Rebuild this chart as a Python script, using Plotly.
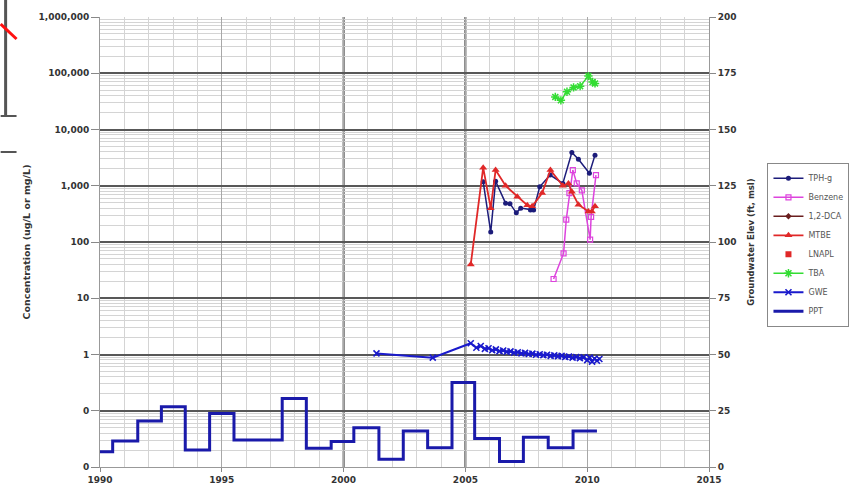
import plotly.graph_objects as go

# ---------------- data (decimal years) ----------------
tph_dates = [2005.73, 2006.04, 2006.24, 2006.65, 2006.83, 2007.09, 2007.27, 2007.67, 2007.80,
             2008.05, 2008.48, 2009.00, 2009.37, 2009.64, 2010.09, 2010.32]
tph_vals = [1180, 150, 1200, 490, 480, 330, 400, 370, 370, 960, 1550, 1100, 3900, 2950, 1670, 3500]

benz_dates = [2008.62, 2009.03, 2009.14, 2009.27, 2009.41, 2009.57, 2009.78, 2010.12, 2010.16, 2010.36]
benz_vals = [22, 63, 250, 740, 1900, 1100, 830, 110, 280, 1550]

dca_dates = [None]
dca_vals = [None]

mtbe_dates = [2005.22, 2005.73, 2006.04, 2006.24, 2006.65, 2007.13, 2007.54, 2007.74, 2008.15,
              2008.49, 2009.00, 2009.23, 2009.37, 2009.64, 2010.05, 2010.19, 2010.32]
mtbe_vals = [40, 2100, 400, 1900, 1000, 640, 450, 430, 740, 1900, 1000, 1100, 780, 460, 350, 350, 430]

lnapl_dates = [None]
lnapl_vals = [None]

tba_dates = [2008.69, 2008.92, 2009.17, 2009.44, 2009.71, 2010.05, 2010.22, 2010.32]
tba_vals = [38000, 33000, 47000, 56000, 59000, 89000, 70000, 66000]

gwe_dates = [2001.35, 2003.66, 2005.22, 2005.45, 2005.63, 2005.80, 2005.95, 2006.10, 2006.25, 2006.40,
             2006.55, 2006.70, 2006.85, 2007.00, 2007.15, 2007.30, 2007.45, 2007.60, 2007.75, 2007.90,
             2008.05, 2008.20, 2008.35, 2008.50, 2008.65, 2008.80, 2008.95, 2009.10, 2009.25, 2009.40,
             2009.55, 2009.70, 2009.85, 2010.00, 2010.10, 2010.20, 2010.30, 2010.40, 2010.50]
gwe_vals = [50.5, 48.6, 55.0, 53.0, 53.8, 52.5, 52.8, 51.9, 52.3, 51.5,
            51.8, 51.2, 51.4, 50.8, 51.0, 50.5, 50.7, 50.2, 50.4, 49.9,
            50.1, 49.7, 49.9, 49.4, 49.6, 49.2, 49.4, 48.9, 49.1, 48.6,
            48.9, 48.4, 48.7, 47.5, 48.6, 46.8, 48.2, 47.2, 48.0]

ppt_dates = [1990.0, 1990.52, 1991.55, 1992.52, 1993.5, 1994.5, 1995.5, 1996.5, 1997.48, 1998.47,
             1999.49, 2000.42, 2001.45, 2002.45, 2003.45, 2004.45, 2005.38, 2006.4, 2007.38, 2008.4,
             2009.42, 2010.4]
ppt_vals = [6.8, 11.6, 20.4, 26.8, 7.6, 23.8, 12.0, 12.0, 30.5, 8.3,
            11.3, 17.5, 3.4, 16.0, 8.6, 37.6, 12.7, 2.4, 13.2, 8.6,
            16.0, 16.0]

x_ticks = [1990, 1995, 2000, 2005, 2010, 2015]
x_labels = ["1990", "1995", "2000", "2005", "2010", "2015"]
conc_ticks = [0.01, 0.1, 1, 10, 100, 1000, 10000, 100000, 1000000]
conc_labels = ["0", "0", "1", "10", "100", "1,000", "10,000", "100,000", "1,000,000"]
elev_ticks = [0, 25, 50, 75, 100, 125, 150, 175, 200]

conc_minor = [k * 10.0 ** d for d in range(-2, 6) for k in range(2, 10)]

FONT = "DejaVu Sans, Liberation Sans, Arial"
TICKFONT = dict(family=FONT, size=9, color="#333333", weight="bold")

fig = go.Figure()

fig.add_trace(go.Scatter(x=tph_dates, y=tph_vals, name="TPH-g", mode="lines+markers",
                         line=dict(color="#1c1c7a", width=1.5),
                         marker=dict(symbol="circle", size=5, color="#1c1c7a")))
fig.add_trace(go.Scatter(x=benz_dates, y=benz_vals, name="Benzene", mode="lines+markers",
                         line=dict(color="#dd44dd", width=1.5),
                         marker=dict(symbol="square-open", size=5, color="#dd44dd", line=dict(width=1.2))))
fig.add_trace(go.Scatter(x=dca_dates, y=dca_vals, name="1,2-DCA", mode="lines+markers",
                         line=dict(color="#6a1e1e", width=1.5),
                         marker=dict(symbol="diamond", size=5, color="#6a1e1e")))
fig.add_trace(go.Scatter(x=mtbe_dates, y=mtbe_vals, name="MTBE", mode="lines+markers",
                         line=dict(color="#e02828", width=1.8),
                         marker=dict(symbol="triangle-up", size=7, color="#e02828")))
fig.add_trace(go.Scatter(x=lnapl_dates, y=lnapl_vals, name="LNAPL", mode="markers",
                         marker=dict(symbol="square", size=6, color="#e02828")))
fig.add_trace(go.Scatter(x=tba_dates, y=tba_vals, name="TBA", mode="lines+markers",
                         line=dict(color="#33dd33", width=1.5),
                         marker=dict(symbol="asterisk-open", size=7, color="#33dd33", line=dict(width=1.5, color="#33dd33"))))
fig.add_trace(go.Scatter(x=gwe_dates, y=gwe_vals, name="GWE", mode="lines+markers", yaxis="y2",
                         line=dict(color="#1a1acc", width=2),
                         marker=dict(symbol="x-thin", size=6, color="#1a1acc", line=dict(width=1.6, color="#1a1acc"))))
fig.add_trace(go.Scatter(x=ppt_dates, y=ppt_vals, name="PPT", mode="lines", yaxis="y2",
                         line=dict(color="#1a1aaa", width=3, shape="hv")))

shapes = []
for xv in [2000, 2005]:
    shapes.append(dict(type="line", xref="x", yref="paper", x0=xv, x1=xv, y0=0, y1=1,
                       line=dict(color="#1e1e1e", width=1.8), layer="between"))

# cropped-edge artefacts in the top-left corner of the reference
def px(xp):
    return (xp - 100) / 613.0

def py(yp):
    return (467 - yp) / 450.0

shapes += [
    dict(type="line", xref="paper", yref="paper", x0=px(5), x1=px(5), y0=py(0), y1=py(116),
         line=dict(color="#555555", width=3)),
    dict(type="line", xref="paper", yref="paper", x0=px(0), x1=px(16), y0=py(116), y1=py(116),
         line=dict(color="#555555", width=2)),
    dict(type="line", xref="paper", yref="paper", x0=px(0), x1=px(16), y0=py(152), y1=py(152),
         line=dict(color="#555555", width=2)),
    dict(type="line", xref="paper", yref="paper", x0=px(0), x1=px(16), y0=py(24), y1=py(39),
         line=dict(color="#ff1010", width=3)),
]

fig.update_layout(
    width=861, height=493,
    margin=dict(l=100, r=148, t=17, b=26),
    paper_bgcolor="white", plot_bgcolor="white",
    font=dict(family=FONT, size=8, color="#333333"),
    showlegend=True,
    shapes=shapes,
    xaxis=dict(
        range=[1990, 2015], tickmode="array", tickvals=x_ticks, ticktext=x_labels,
        showgrid=True, gridcolor="#a8a8a8", gridwidth=1.2,
        minor=dict(dtick=1, tick0=1990, showgrid=True, gridcolor="#d4d4d4", gridwidth=1),
        ticks="outside", ticklen=4, tickcolor="#888888",
        showline=True, linecolor="#999999", linewidth=1, zeroline=False,
        tickfont=TICKFONT, automargin=False,
    ),
    yaxis=dict(
        type="log", range=[-2, 6], tickmode="array", tickvals=conc_ticks, ticktext=conc_labels,
        showgrid=True, gridcolor="#585858", gridwidth=1.5,
        minor=dict(tickmode="array", tickvals=conc_minor, showgrid=True, gridcolor="#d4d4d4", gridwidth=1),
        ticks="outside", ticklen=8, tickcolor="#888888",
        showline=True, linecolor="#999999", linewidth=1, zeroline=False,
        tickfont=TICKFONT, automargin=False,
        title=dict(text="Concentration (ug/L or mg/L)", standoff=6,
                   font=dict(family=FONT, size=9.5, color="#333333", weight="bold")),
    ),
    yaxis2=dict(
        overlaying="y", side="right", range=[0, 200], tickmode="array", tickvals=elev_ticks,
        showgrid=False, zeroline=False,
        ticks="outside", ticklen=6, tickcolor="#888888",
        showline=True, linecolor="#999999", linewidth=1,
        tickfont=TICKFONT, automargin=False,
        title=dict(text="Groundwater Elev (ft, msl)", standoff=12,
                   font=dict(family=FONT, size=8.5, color="#333333", weight="bold")),
    ),
    legend=dict(
        x=1.096, y=0.676, xanchor="left", yanchor="top",
        bgcolor="white", bordercolor="#888888", borderwidth=1,
        font=dict(family=FONT, size=8, color="#555555"),
        itemwidth=30, traceorder="normal",
    ),
)

fig.write_html("out.html", config={"displayModeBar": False},
               post_script="document.body.style.margin='0';")
